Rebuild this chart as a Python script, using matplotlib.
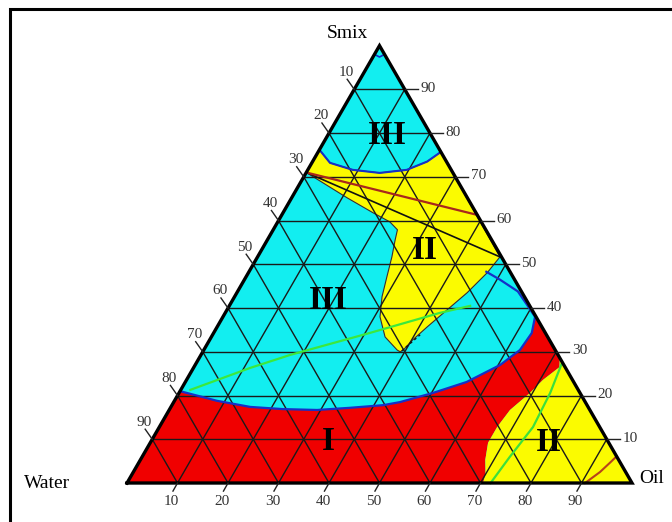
import numpy as np
import matplotlib
matplotlib.use("Agg")
import matplotlib.pyplot as plt
from matplotlib.patches import Rectangle

plt.rcParams['font.family'] = ['Liberation Serif', 'DejaVu Serif']

H = np.sqrt(3) / 2
TICKS = [10, 20, 30, 40, 50, 60, 70, 80, 90]

CYAN = '#12EEF0'
RED = '#F00000'
YELLOW = '#FBFB00'

# boundaries, as (oil %, smix %)
# top arc closing region III near the Smix corner
TOP_ARC_OIL = [0.0, 3.6, 8.9, 14.6, 19.6, 22.7, 24.3]
TOP_ARC_SMIX = [76.2, 73.2, 71.6, 70.9, 71.6, 73.5, 75.7]

# upper region II lobe, from right edge round the tip back to the left edge
LOBE_OIL = [48.0, 47.3, 45.6, 43.6, 41.6, 40.2, 39.5, 39.1, 38.3, 34.4, 31.1,
            29.2, 27.9, 26.6, 25.3, 24.6, 22.2, 17.8, 11.0, 0.0]
LOBE_SMIX = [51.7, 48.1, 43.5, 39.6, 35.7, 32.7, 30.4, 30.0, 30.4, 33.4, 38.0,
             42.6, 47.1, 51.7, 55.6, 57.9, 59.7, 61.8, 65.2, 71.0]

# blue boundary of the big region III
ELL_OIL = [47.0, 50.6, 55.5, 59.0, 61.8, 63.0, 62.6, 60.4, 55.7, 50.3, 44.8,
           41.8, 35.6, 29.3, 22.4, 15.7, 8.4, 0.0]
ELL_SMIX = [48.3, 46.5, 43.8, 40.6, 38.0, 34.3, 30.4, 27.0, 23.1, 20.6, 18.5,
            17.8, 17.2, 16.7, 16.9, 17.4, 18.8, 21.0]

# red / lower region II boundary, bottom edge to right edge
LOW_OIL = [70.5, 70.0, 68.3, 66.9, 66.9, 67.5, 69.5, 70.6, 72.4, 71.4]
LOW_SMIX = [0.0, 2.0, 5.3, 9.2, 12.8, 16.7, 20.6, 23.6, 26.5, 28.6]

GREEN_LOW_OIL = [72.0, 72.8, 74.0, 73.5, 72.4]
GREEN_LOW_SMIX = [0.0, 5.9, 12.8, 20.6, 27.5]

GREEN_MID_OIL = [1.9, 11.2, 17.7, 30.9, 42.5, 47.7]
GREEN_MID_SMIX = [21.3, 26.3, 29.3, 34.3, 38.9, 40.5]

BROWN_ARC_OIL = [90.7, 92.4, 93.3, 93.9]
BROWN_ARC_SMIX = [0.0, 2.5, 4.6, 6.1]

APEX_ARC_OIL = [0.0, 1.3, 2.0]
APEX_ARC_SMIX = [98.0, 97.4, 98.0]

TIE_BLACK = ([0.0, 48.5], [71.0, 51.5])
TIE_BROWN = ([0.0, 38.7], [71.0, 61.3])
TIP_DASH = ([39.3, 41.1], [30.2, 33.9])

REGION_LABELS = ['III', 'II', 'III', 'I', 'II']
REGION_X = [51.5, 59.0, 39.8, 39.8, 83.6]
REGION_Y = [68.9, 46.1, 36.2, 8.3, 8.1]


def to_xy(oil, smix):
    oil = np.asarray(oil, dtype=float)
    smix = np.asarray(smix, dtype=float)
    return oil + smix / 2, smix * H


fig = plt.figure(figsize=(6.72, 5.22), dpi=100)
ax = fig.add_axes([0, 0, 1, 1])
ax.set_xlim(-25.15, 107.92)
ax.set_ylim(-7.72, 95.64)
ax.axis('off')

# whole triangle is region III (cyan)
ax.fill(*to_xy([0, 100, 0], [0, 0, 100]), color=CYAN, lw=0, zorder=1)

# red region I
keep = [i for i, s in enumerate(ELL_SMIX) if s < 39.5]
red_oil = [0.0] + LOW_OIL + [60.0] + [ELL_OIL[i] for i in keep]
red_smix = [0.0] + LOW_SMIX + [40.0] + [ELL_SMIX[i] for i in keep]
ax.fill(*to_xy(red_oil, red_smix), color=RED, lw=0, zorder=2)

# lower right region II
ax.fill(*to_xy(LOW_OIL + [100.0], LOW_SMIX + [0.0]), color=YELLOW, lw=0, zorder=2)

# upper region II
up_oil = TOP_ARC_OIL + LOBE_OIL
up_smix = TOP_ARC_SMIX + LOBE_SMIX
ax.fill(*to_xy(up_oil, up_smix), facecolor=YELLOW, edgecolor='#3a2a30', lw=0.8, zorder=2)

# grid
for k in TICKS:
    ax.plot(*to_xy([0, 100 - k], [k, k]), color='#1a1a1a', lw=1.0, zorder=3)
    ax.plot(*to_xy([k, k], [0, 100 - k]), color='#1a1a1a', lw=1.0, zorder=3)
    ax.plot(*to_xy([100 - k, 0], [0, 100 - k]), color='#1a1a1a', lw=1.0, zorder=3)

# curves
ax.plot(*to_xy(TOP_ARC_OIL, TOP_ARC_SMIX), color='#1530C8', lw=1.5, zorder=4)
ax.plot(*to_xy(ELL_OIL, ELL_SMIX), color='#1530C8', lw=1.6, zorder=4)
ax.plot(*to_xy(APEX_ARC_OIL, APEX_ARC_SMIX), color='#1530C8', lw=1.2, zorder=4)
ax.plot(*to_xy(GREEN_LOW_OIL, GREEN_LOW_SMIX), color='#3CE03C', lw=1.6, zorder=4)
ax.plot(*to_xy(GREEN_MID_OIL, GREEN_MID_SMIX), color='#3CE83C', lw=1.6, zorder=4)
ax.plot(*to_xy(BROWN_ARC_OIL, BROWN_ARC_SMIX), color='#B8431A', lw=1.5, zorder=4)
ax.plot(*to_xy(*TIE_BLACK), color='#111111', lw=1.2, zorder=4)
ax.plot(*to_xy(*TIE_BROWN), color='#A8281C', lw=1.6, zorder=4)
ax.plot(*to_xy(*TIP_DASH), color='#111111', lw=1.0, ls=(0, (2, 2)), zorder=4)

# triangle outline
ax.plot(*to_xy([0, 100, 0, 0], [0, 0, 100, 0]), color='black', lw=2.4,
        solid_joinstyle='miter', zorder=5)

# ticks and labels
tick_kw = dict(color='#222222', lw=1.0, zorder=5, clip_on=False)
lab_kw = dict(fontsize=11, color='#333333', ha='center', va='center')
for k in TICKS:
    # bottom: oil
    x0, y0 = to_xy(k, 0)
    ax.plot([x0, x0 - 0.9], [y0, y0 - 1.6], **tick_kw)
    ax.text(x0 - 1.2, y0 - 3.75, str(k), **lab_kw)
    # right: smix
    x0, y0 = to_xy(100 - k, k)
    ax.plot([x0, x0 + 2.6], [y0, y0], **tick_kw)
    ax.text(x0 + 3.1, y0 + 0.2, str(k), fontsize=11, color='#333333',
            ha='left', va='center')
    # left: water
    x0, y0 = to_xy(0, 100 - k)
    ax.plot([x0, x0 - 1.4], [y0, y0 + 2.0], **tick_kw)
    ax.text(x0 - 1.6, y0 + 3.4, str(k), **lab_kw)

ax.text(43.6, 89.1, 'Smix', fontsize=14, ha='center', va='center')
ax.text(-15.8, 0.0, 'Water', fontsize=14, ha='center', va='center')
ax.text(101.4, 0.8, 'Oil', fontsize=14, ha='left', va='center')

for lab, x, y in zip(REGION_LABELS, REGION_X, REGION_Y):
    ax.text(x, y, lab, fontsize=24, fontweight='bold', ha='center', va='center', zorder=6)

# frame around the picture
fig.add_artist(Rectangle((10 / 672, -0.05), 1.1, 1.05 - 9 / 522,
                         transform=fig.transFigure, fill=False, lw=2.2, ec='black'))

fig.savefig('out.png', dpi=100)
